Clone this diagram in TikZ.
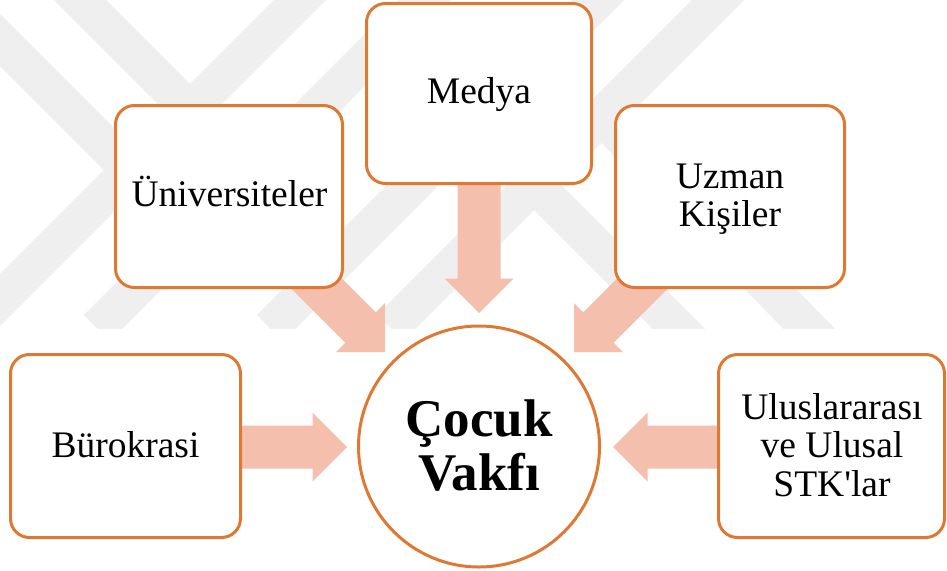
\documentclass[tikz,border=0pt]{standalone}
\usepackage{fontspec}
\setmainfont{Liberation Serif}
\usetikzlibrary{calc}
\definecolor{boxorange}{RGB}{222,120,50}
\definecolor{arrowfill}{RGB}{244,192,173}
\definecolor{wmgray}{RGB}{239,239,239}
\newcommand\blockarrow[2]{%
  \fill[arrowfill]
    ($(#1)!21.5pt!-90:(#2)$) --
    ($($(#2)!34.5pt!(#1)$)!21.5pt!-90:(#2)$) --
    ($($(#2)!34.5pt!(#1)$)!34.5pt!-90:(#2)$) --
    (#2) --
    ($($(#2)!34.5pt!(#1)$)!34.5pt!90:(#2)$) --
    ($($(#2)!34.5pt!(#1)$)!21.5pt!90:(#2)$) --
    ($(#1)!21.5pt!90:(#2)$) -- cycle;}
\tikzset{
  box/.style={draw=boxorange, line width=3pt, fill=white, rounded corners=19pt, inner sep=0pt},
  hub/.style={draw=boxorange, line width=3pt, fill=white, circle, inner sep=0pt, minimum size=241pt},
  lbl/.style={anchor=base, inner sep=0pt, font=\fontsize{37.5}{39}\selectfont},
  hublbl/.style={anchor=base, inner sep=0pt, font=\fontsize{53}{55}\selectfont\bfseries},
  band/.style={draw=wmgray, line width=37pt}
}
\begin{document}
\begin{tikzpicture}[x=1pt,y=-1pt]
\fill[white] (0,0) rectangle (947,570);
\useasboundingbox (0,0) rectangle (947,570);
% watermark
\begin{scope}
\clip (0,0) rectangle (947,328);
\draw[band] (-20,20) -- (200,240);
\draw[band] (60,-20) -- (280,200);
\draw[band] (320,-20) -- (-20,320);
\draw[band] (445,-20) -- (97,328);
\draw[band] (618,-20) -- (270,328);
\draw[band] (738,-20) -- (390,328);
\draw[band] (450,100) -- (700,350);
\draw[band] (590,105) -- (830,350);
\end{scope}
% arrow coordinates
\coordinate (sMed) at (479,150);
\coordinate (tMed) at (479,313);
\coordinate (sUni) at (265,232);
\coordinate (tUni) at (385,352);
\coordinate (sUzm) at (694,232);
\coordinate (tUzm) at (574,352);
\coordinate (sBur) at (200,447);
\coordinate (tBur) at (347,447);
\coordinate (sUlu) at (760,447);
\coordinate (tUlu) at (613,447);
\blockarrow{sMed}{tMed}
\blockarrow{sUni}{tUni}
\blockarrow{sUzm}{tUzm}
\blockarrow{sBur}{tBur}
\blockarrow{sUlu}{tUlu}
% boxes
\node[box, minimum width=225pt, minimum height=180pt] (medya) at (479,93.5) {};
\node[box, minimum width=227pt, minimum height=182pt] (uni) at (229,196.5) {};
\node[box, minimum width=229pt, minimum height=182pt] (uzman) at (730,196.5) {};
\node[box, minimum width=230pt, minimum height=183pt] (buro) at (125.5,446) {};
\node[box, minimum width=226pt, minimum height=183pt] (ulus) at (831.5,446) {};
\node[hub] (vakif) at (479,446.5) {};
% labels
\node[lbl] (tmedya) at (479,103.5) {Medya};
\node[lbl] (tuni) at (229.5,206.5) {Üniversiteler};
\node[lbl] (tuz1) at (730,188) {Uzman};
\node[lbl] (tuz2) at (730,226.7) {Kişiler};
\node[lbl] (tburo) at (125.5,457.3) {Bürokrasi};
\node[lbl] (tul1) at (832,419.3) {Uluslararası};
\node[lbl] (tul2) at (832,457.7) {ve Ulusal};
\node[lbl] (tul3) at (832,496.7) {STK\textquotesingle lar};
\node[hublbl] (tv1) at (479,436) {Çocuk};
\node[hublbl] (tv2) at (479,490) {Vakfı};
\end{tikzpicture}
\end{document}
